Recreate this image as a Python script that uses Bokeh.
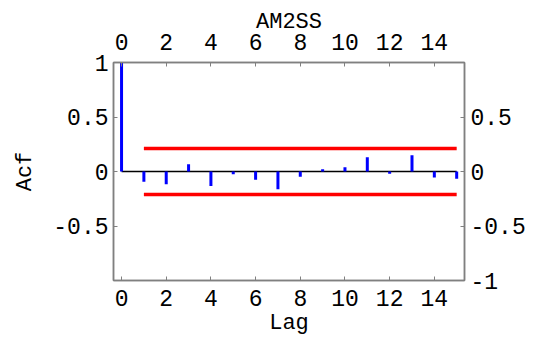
from bokeh.plotting import figure
from bokeh.models import LinearAxis, FixedTicker, Range1d
from bokeh.embed import file_html
from bokeh.resources import INLINE

# Data
lags = list(range(0, 16))
acf = [1.0, -0.094, -0.118, 0.066, -0.133, -0.026, -0.075, -0.163,
       -0.048, 0.02, 0.04, 0.13, -0.02, 0.15, -0.054, -0.066]
conf_level = 0.21
conf_start, conf_end = 1, 15
title_text = "AM2SS"
x_label = "Lag"
y_label = "Acf"
x_ticks = [0, 2, 4, 6, 8, 10, 12, 14]
left_ticks = [-0.5, 0, 0.5, 1]
left_labels = {-0.5: "-0.5", 0: "0", 0.5: "0.5", 1: "1"}
right_ticks = [-1, -0.5, 0, 0.5]
right_labels = {-1: "-1", -0.5: "-0.5", 0: "0", 0.5: "0.5"}

FONT = "Liberation Mono"
FS = "23px"
LFS = "22px"
FRAME = "#808080"

p = figure(width=544, height=343, output_backend="svg", toolbar_location=None,
           x_range=Range1d(-0.36, 15.35), y_range=Range1d(-1, 1),
           min_border_left=113, min_border_right=80,
           min_border_top=62, min_border_bottom=63,
           x_axis_location=None, y_axis_location=None)
p.grid.visible = False
p.outline_line_color = FRAME
p.outline_line_width = 1.5
p.background_fill_color = "white"
p.border_fill_color = "white"

def style(ax, ticks, overrides=None):
    ax.ticker = FixedTicker(ticks=ticks)
    if overrides:
        ax.major_label_overrides = overrides
    ax.axis_line_color = FRAME
    ax.axis_line_width = 1.5
    ax.major_tick_line_color = FRAME
    ax.major_tick_in = 4
    ax.major_tick_out = 0
    ax.minor_tick_line_color = None
    ax.major_label_text_font = FONT
    ax.major_label_text_font_size = FS
    ax.major_label_text_color = "black"
    ax.axis_label_text_font = FONT
    ax.axis_label_text_font_size = LFS
    ax.axis_label_text_font_style = "normal"
    ax.axis_label_text_color = "black"

bottom = LinearAxis(axis_label=x_label)
style(bottom, x_ticks)
bottom.major_label_standoff = 9
bottom.axis_label_standoff = 2
top = LinearAxis(axis_label=title_text)
style(top, x_ticks)
top.major_label_standoff = 13
top.axis_label_standoff = -4
left = LinearAxis(axis_label=y_label)
style(left, left_ticks, left_labels)
left.major_label_standoff = 5
left.axis_label_standoff = 12
right = LinearAxis()
style(right, right_ticks, right_labels)
right.major_label_standoff = 6

p.add_layout(bottom, "below")
p.add_layout(top, "above")
p.add_layout(left, "left")
p.add_layout(right, "right")

# zero line
p.segment(x0=[lags[0]], y0=[0], x1=[lags[-1]], y1=[0], line_color="black", line_width=1.5)
# confidence bands
p.segment(x0=[conf_start, conf_start], y0=[conf_level, -conf_level],
          x1=[conf_end, conf_end], y1=[conf_level, -conf_level],
          line_color="#ff0000", line_width=3.5)
# acf bars
p.segment(x0=lags, y0=[0] * len(lags), x1=lags, y1=acf,
          line_color="#0000ff", line_width=3)

open("out.html", "w").write(file_html(p, INLINE))
